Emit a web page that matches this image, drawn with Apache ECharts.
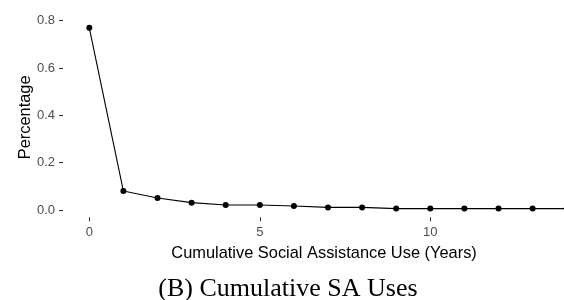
<!DOCTYPE html>
<html>
<head>
<meta charset="utf-8">
<script src="https://cdn.jsdelivr.net/npm/echarts@6/dist/echarts.min.js"></script>
<style>
  html, body { margin: 0; padding: 0; background: #fff; }
  #chart { width: 564px; height: 300px; }
</style>
</head>
<body>
<div id="chart"></div>
<script>
// years of cumulative social assistance use
const years = [0, 1, 2, 3, 4, 5, 6, 7, 8, 9, 10, 11, 12, 13, 14];
// share of people
const percentage = [0.770, 0.080, 0.051, 0.031, 0.021, 0.021, 0.017, 0.011, 0.011, 0.006, 0.006, 0.006, 0.006, 0.006, 0.006];
const yTicks = [0, 0.2, 0.4, 0.6, 0.8];

const chart = echarts.init(document.getElementById('chart'));
const tickColor = '#4d4d4d';

const option = {
    animation: false,
    title: {
        text: '(B) Cumulative SA Uses',
        left: 283,
        top: 271,
        textAlign: 'center',
        textStyle: {
            fontFamily: 'Liberation Serif',
            fontWeight: 'normal',
            fontSize: 26,
            color: '#000'
        }
    },
    grid: {
        left: 89.3,
        right: -36.8,
        top: 20.7,
        bottom: 90,
        containLabel: false,
        outerBoundsMode: 'none'
    },
    xAxis: {
        type: 'value',
        min: 0,
        max: 15,
        interval: 5,
        offset: 7.3,
        name: 'Cumulative Social Assistance Use (Years)',
        nameLocation: 'middle',
        nameGap: 28,
        nameMoveOverlap: false,
        nameTextStyle: {
            fontFamily: 'Liberation Sans',
            fontSize: 16.4,
            color: '#000',
            padding: [0, 42, 0, 0]
        },
        axisLine: { show: false, onZero: false },
        axisTick: { show: true, length: 4, lineStyle: { color: '#333', width: 1 } },
        axisLabel: {
            margin: 9,
            fontFamily: 'Liberation Sans',
            fontSize: 13,
            color: tickColor
        },
        splitLine: { show: false }
    },
    yAxis: {
        type: 'value',
        min: 0,
        max: 0.8,
        interval: 0.2,
        offset: 26.3,
        name: 'Percentage',
        nameLocation: 'middle',
        nameGap: 29.5,
        nameMoveOverlap: false,
        nameTextStyle: {
            fontFamily: 'Liberation Sans',
            fontSize: 16.4,
            color: '#000',
            padding: [0, 4, 0, 0]
        },
        axisLine: { show: false, onZero: false },
        axisTick: { show: true, length: 4, lineStyle: { color: '#333', width: 1 } },
        axisLabel: {
            margin: 8,
            fontFamily: 'Liberation Sans',
            fontSize: 13,
            color: tickColor,
            formatter: v => yTicks.includes(+v.toFixed(1)) ? v.toFixed(1) : ''
        },
        splitLine: { show: false }
    },
    series: [{
        type: 'line',
        data: years.map((x, i) => [x, percentage[i]]),
        symbol: 'circle',
        symbolSize: 6,
        showSymbol: true,
        itemStyle: { color: '#000' },
        lineStyle: { color: '#000', width: 1.1 }
    }]
};
chart.setOption(option);
</script>
</body>
</html>
